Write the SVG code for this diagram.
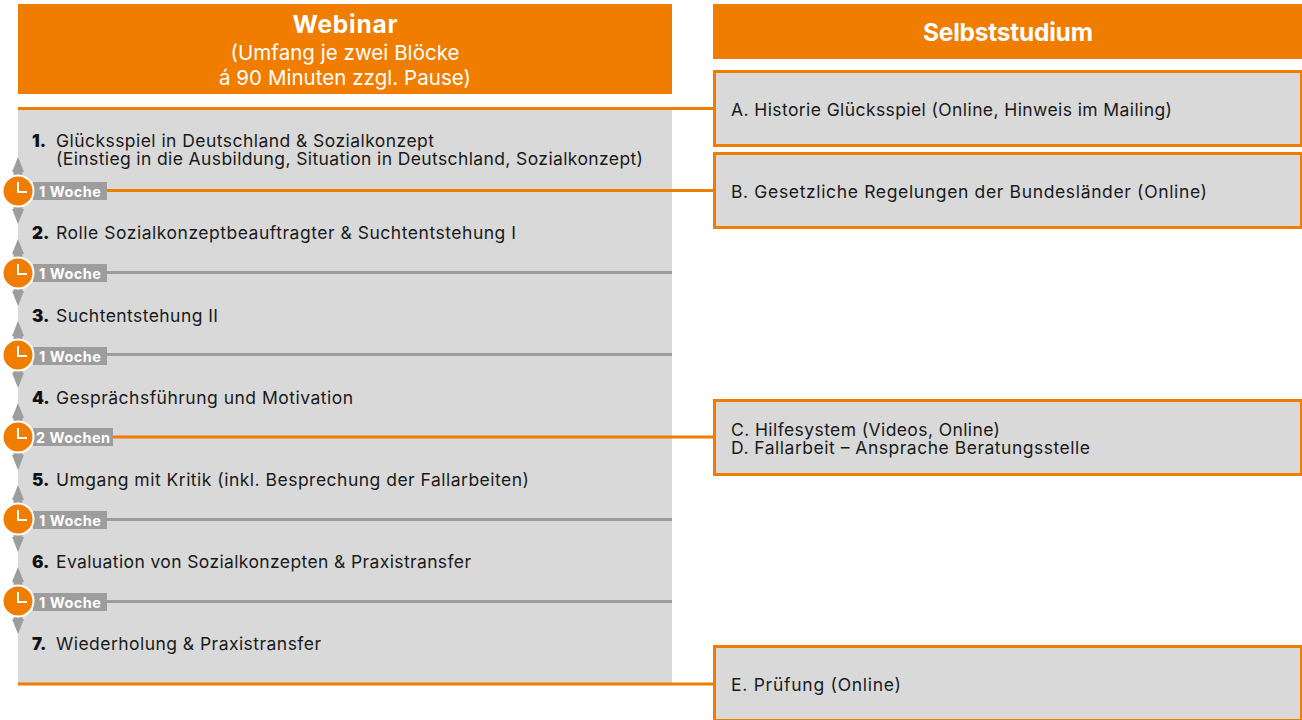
<svg xmlns="http://www.w3.org/2000/svg" xmlns:xlink="http://www.w3.org/1999/xlink" width="1302" height="720" viewBox="0 0 1302 720">
<style>
text{font-family:"Inter","Noto Sans","Liberation Sans",sans-serif}
.hd{fill:#f07d00}
.panel{fill:#d9d9d9}
.box{fill:#d9d9d9;stroke:#f07d00;stroke-width:3}
.t{font-size:17.500px;fill:#1a1a1a}
.n{font-size:17px;font-weight:900;fill:#111}
.h1{font-size:24.500px;font-weight:700;fill:#fff;text-anchor:middle}
.h2{font-size:20.500px;fill:#fff;text-anchor:middle}
.lb{font-size:14.500px;font-weight:700;fill:#fff}
.o{stroke:#f07d00;stroke-width:3;fill:none}
.g{stroke:#9d9d9d;stroke-width:3;fill:none}
.tag{fill:#9d9d9d}
</style>
<defs>
<g id="clock">
<path d="M0-34 L-6-19 H-4.500 V-15 H4.500 V-19 H6 Z M0 33 L-6 18 H-4.500 V14 H4.500 V18 H6 Z" fill="#9d9d9d"/>
<circle r="15.500" fill="#f07d00" stroke="#fff" stroke-width="2"/>
<path d="M0-9 V1 H9" fill="none" stroke="#fff" stroke-width="2"/>
</g>
</defs>
<g id="panel-webinar"><rect class="panel" x="18" y="108" width="654" height="576"/></g>
<g id="connectors">
<path class="o" d="M18 108.500H713M107 190.500H713M112 437H713M18 684H713"/>
<path class="g" d="M107 272.500H672M107 354.500H672M107 519.500H672M107 601.500H672"/>
</g>
<g id="header-webinar"><rect class="hd" x="18" y="4" width="654" height="90"/>
<text class="h1" x="345" y="33" textLength="105">Webinar</text><text class="h2" x="345" y="60" textLength="229">(Umfang je zwei Blöcke</text><text class="h2" x="345" y="85" textLength="252">á 90 Minuten zzgl. Pause)</text></g>
<g id="header-selbststudium"><rect class="hd" x="713" y="4" width="589" height="55"/><text class="h1" x="1008" y="41" textLength="170">Selbststudium</text></g>
<g id="step-1"><text class="n" x="32" y="147">1.</text><text class="t" x="56" y="147" textLength="378">Glücksspiel in Deutschland &amp; Sozialkonzept</text><text class="t" x="56" y="165" textLength="587">(Einstieg in die Ausbildung, Situation in Deutschland, Sozialkonzept)</text></g>
<g id="step-2"><text class="n" x="32" y="239">2.</text><text class="t" x="56" y="239" textLength="460">Rolle Sozialkonzeptbeauftragter &amp; Suchtentstehung I</text></g>
<g id="step-3"><text class="n" x="32" y="322">3.</text><text class="t" x="56" y="322" textLength="162">Suchtentstehung II</text></g>
<g id="step-4"><text class="n" x="32" y="404">4.</text><text class="t" x="56" y="404" textLength="297">Gesprächsführung und Motivation</text></g>
<g id="step-5"><text class="n" x="32" y="486">5.</text><text class="t" x="56" y="486" textLength="473">Umgang mit Kritik (inkl. Besprechung der Fallarbeiten)</text></g>
<g id="step-6"><text class="n" x="32" y="568">6.</text><text class="t" x="56" y="568" textLength="415">Evaluation von Sozialkonzepten &amp; Praxistransfer</text></g>
<g id="step-7"><text class="n" x="32" y="650">7.</text><text class="t" x="56" y="650" textLength="265">Wiederholung &amp; Praxistransfer</text></g>
<g id="gap-1"><rect class="tag" x="33" y="182" width="74" height="18"/><text class="lb" x="39" y="196.500" textLength="62">1 Woche</text><use xlink:href="#clock" href="#clock" x="18" y="191"/></g>
<g id="gap-2"><rect class="tag" x="33" y="264" width="74" height="18"/><text class="lb" x="39" y="278.500" textLength="62">1 Woche</text><use xlink:href="#clock" href="#clock" x="18" y="273"/></g>
<g id="gap-3"><rect class="tag" x="33" y="347" width="74" height="18"/><text class="lb" x="39" y="361.500" textLength="62">1 Woche</text><use xlink:href="#clock" href="#clock" x="18" y="355"/></g>
<g id="gap-4"><rect class="tag" x="33" y="428" width="80" height="18"/><text class="lb" x="36" y="443" textLength="74">2 Wochen</text><use xlink:href="#clock" href="#clock" x="18" y="437"/></g>
<g id="gap-5"><rect class="tag" x="33" y="511" width="74" height="18"/><text class="lb" x="39" y="525.500" textLength="62">1 Woche</text><use xlink:href="#clock" href="#clock" x="18" y="519"/></g>
<g id="gap-6"><rect class="tag" x="33" y="593" width="74" height="18"/><text class="lb" x="39" y="607.500" textLength="62">1 Woche</text><use xlink:href="#clock" href="#clock" x="18" y="601"/></g>
<g id="box-a"><rect class="box" x="714.500" y="71.500" width="587" height="74"/><text class="t" x="731" y="116" textLength="441">A. Historie Glücksspiel (Online, Hinweis im Mailing)</text></g>
<g id="box-b"><rect class="box" x="714.500" y="153.500" width="587" height="74"/><text class="t" x="731" y="198" textLength="476">B. Gesetzliche Regelungen der Bundesländer (Online)</text></g>
<g id="box-c"><rect class="box" x="714.500" y="400.500" width="587" height="74"/><text class="t" x="731" y="436" textLength="269">C. Hilfesystem (Videos, Online)</text><text class="t" x="731" y="454" textLength="359">D. Fallarbeit – Ansprache Beratungsstelle</text></g>
<g id="box-e"><rect class="box" x="714.500" y="646.500" width="587" height="74"/><text class="t" x="731" y="691" textLength="170">E. Prüfung (Online)</text></g>
</svg>
